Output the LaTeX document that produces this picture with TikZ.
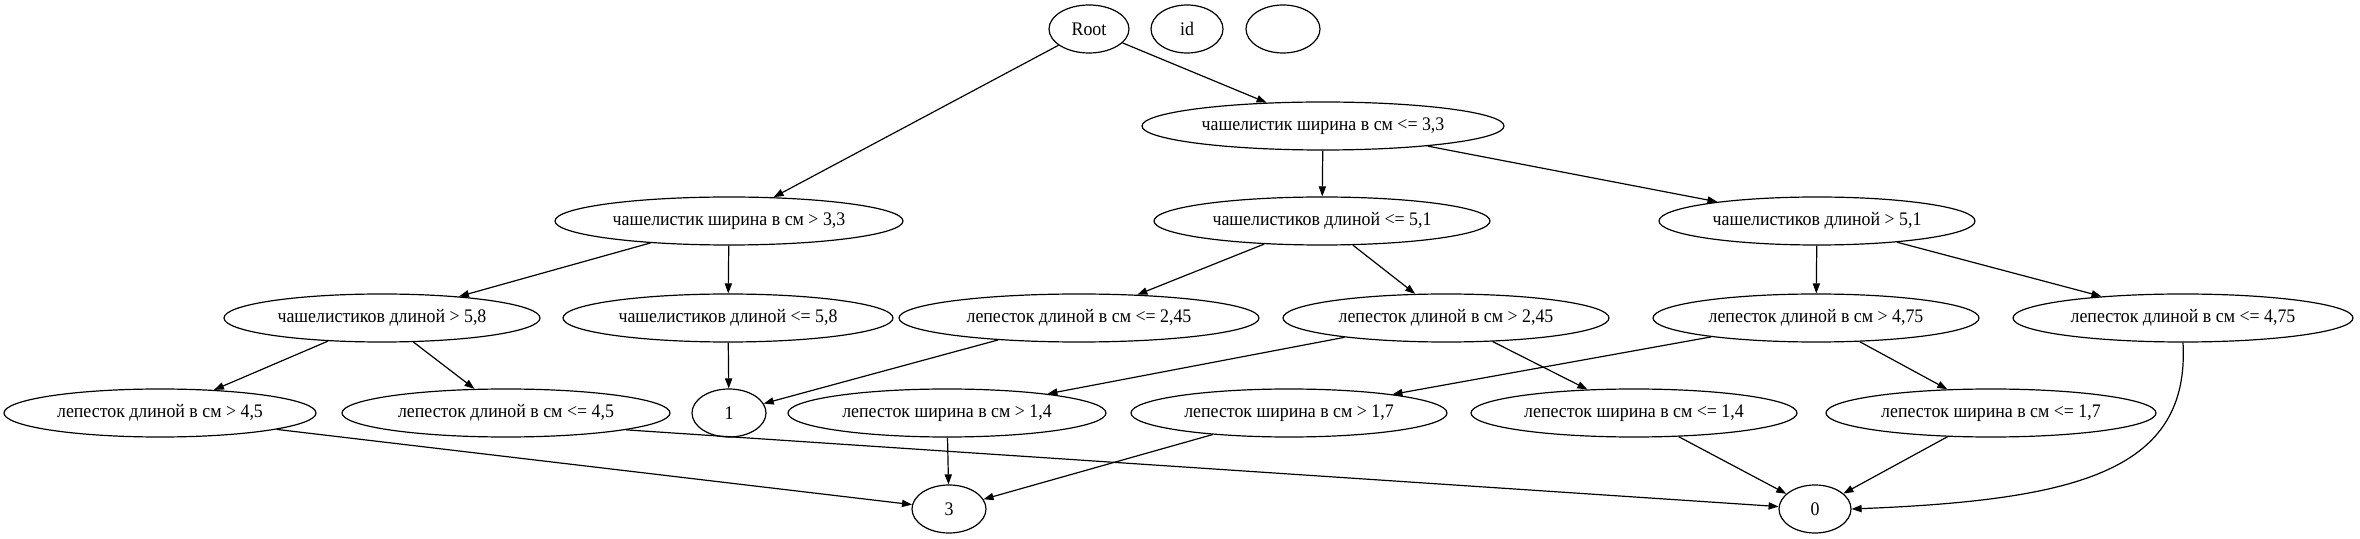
\documentclass[tikz,border=0pt]{standalone}
\usepackage{fontspec}
\setmainfont{Liberation Serif}[FakeStretch=0.93]
\usetikzlibrary{shapes.geometric,arrows.meta}
\tikzset{
  nd/.style={draw, ellipse, inner sep=0pt, minimum height=24pt, line width=0.6pt,
    font=\fontsize{9.6pt}{11pt}\selectfont},
  conn/.style={-{Triangle[length=5pt,width=3.6pt]}, line width=0.6pt}
}
\begin{document}
\begin{tikzpicture}[x=0.5pt,y=-0.5pt]
\useasboundingbox (0,0) rectangle (2360,539);
% row 0
\node[nd, minimum width=40pt] (root) at (1089,29) {Root};
\node[nd, minimum width=36pt] (id) at (1187,29) {id};
\node[nd, minimum width=37pt] (empty) at (1283,29) {};
% row 1
\node[nd, minimum width=181pt] (n1) at (1323,126) {чашелистик ширина в см <= 3,3};
% row 2
\node[nd, minimum width=174pt] (n2) at (729,221) {чашелистик ширина в см > 3,3};
\node[nd, minimum width=168pt] (n3) at (1322,221) {чашелистиков длиной <= 5,1};
\node[nd, minimum width=158pt] (n4) at (1817,221) {чашелистиков длиной > 5,1};
% row 3
\node[nd, minimum width=158pt] (n5) at (382,318) {чашелистиков длиной > 5,8};
\node[nd, minimum width=165pt] (n6) at (728,318) {чашелистиков длиной <= 5,8};
\node[nd, minimum width=180pt] (n7) at (1079,318) {лепесток длиной в см <= 2,45};
\node[nd, minimum width=163pt] (n8) at (1446,318) {лепесток длиной в см > 2,45};
\node[nd, minimum width=163pt] (n9) at (1816,318) {лепесток длиной в см > 4,75};
\node[nd, minimum width=170pt] (n10) at (2183,318) {лепесток длиной в см <= 4,75};
% row 4
\node[nd, minimum width=156pt] (n11) at (160,413) {лепесток длиной в см > 4,5};
\node[nd, minimum width=164pt] (n12) at (506,413) {лепесток длиной в см <= 4,5};
\node[nd, minimum width=37pt] (one) at (729,413) {1};
\node[nd, minimum width=159pt] (n13) at (947,413) {лепесток ширина в см > 1,4};
\node[nd, minimum width=158pt] (n14) at (1289,413) {лепесток ширина в см > 1,7};
\node[nd, minimum width=163pt] (n15) at (1634,413) {лепесток ширина в см <= 1,4};
\node[nd, minimum width=165pt] (n16) at (1991,413) {лепесток ширина в см <= 1,7};
% row 5
\node[nd, minimum width=37pt] (three) at (949,509) {3};
\node[nd, minimum width=36pt] (zero) at (1815,509) {0};
% edges
\draw[conn] (root) -- (n2);
\draw[conn] (root) -- (n1);
\draw[conn] (n1) -- (n3);
\draw[conn] (n1) -- (n4);
\draw[conn] (n2) -- (n5);
\draw[conn] (n2) -- (n6);
\draw[conn] (n3) -- (n7);
\draw[conn] (n3) -- (n8);
\draw[conn] (n4) -- (n9);
\draw[conn] (n4) -- (n10);
\draw[conn] (n5) -- (n11);
\draw[conn] (n5) -- (n12);
\draw[conn] (n6) -- (one);
\draw[conn] (n7) -- (one);
\draw[conn] (n8) -- (n13);
\draw[conn] (n8) -- (n15);
\draw[conn] (n9) -- (n14);
\draw[conn] (n9) -- (n16);
\draw[conn] (n11.-8) -- (three);
\draw[conn] (n13) -- (three);
\draw[conn] (n14) -- (three);
\draw[conn] (n12.-8) -- (zero);
\draw[conn] (n15) -- (zero);
\draw[conn] (n16) -- (zero);
\draw[conn] (n10.south) .. controls (2190,470) and (2080,500) .. (zero.east);
\end{tikzpicture}
\end{document}
